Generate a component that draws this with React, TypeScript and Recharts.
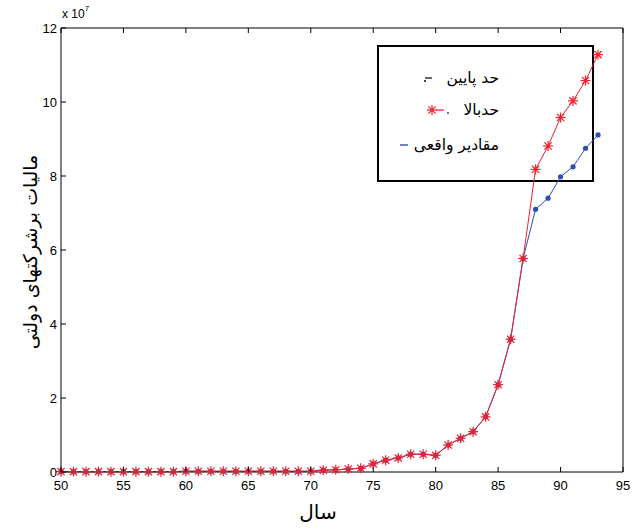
import React from 'react';
import { LineChart, Line, XAxis, YAxis } from 'recharts';

// years 1350..1393 (shown as 50..93), values in units of 10^7
const years = [
  50, 51, 52, 53, 54, 55, 56, 57, 58, 59, 60, 61, 62, 63, 64, 65, 66, 67, 68, 69,
  70, 71, 72, 73, 74, 75, 76, 77, 78, 79, 80, 81, 82, 83, 84, 85, 86, 87, 88, 89,
  90, 91, 92, 93,
];

const upperBound = [
  0.01, 0.01, 0.01, 0.01, 0.01, 0.01, 0.01, 0.01, 0.01, 0.01, 0.02, 0.02, 0.02, 0.02,
  0.02, 0.02, 0.02, 0.02, 0.02, 0.02, 0.02, 0.05, 0.06, 0.08, 0.1, 0.22, 0.32, 0.38,
  0.48, 0.48, 0.45, 0.73, 0.91, 1.09, 1.49, 2.36, 3.59, 5.77, 8.18, 8.81, 9.58, 10.03,
  10.58, 11.28,
];

const lowerBound = [
  0.01, 0.01, 0.01, 0.01, 0.01, 0.01, 0.01, 0.01, 0.01, 0.01, 0.02, 0.02, 0.02, 0.02,
  0.02, 0.02, 0.02, 0.02, 0.02, 0.02, 0.02, 0.05, 0.06, 0.08, 0.1, 0.22, 0.32, 0.38,
  0.48, 0.48, 0.45, 0.73, 0.91, 1.09, 1.49, 2.36, 3.59, 5.77, 7.1, 7.4, 7.98, 8.25,
  8.75, 9.11,
];

const xTicks = [50, 55, 60, 65, 70, 75, 80, 85, 90, 95];
const yTicks = [0, 2, 4, 6, 8, 10, 12];

const legendItems = ['حد پایین', 'حدبالا', 'مقادیر واقعی'];

const RED = '#f0202c';
const BLUE = '#2d4fb3';
const FONT = '"Liberation Sans", Arial, "DejaVu Sans", sans-serif';

const data = years.map((y, i) => ({ year: y, upper: upperBound[i], lower: lowerBound[i] }));

const Star = ({ cx, cy }: any) => {
  const r = 5;
  const d = r * 0.72;
  return (
    <g stroke={RED} strokeWidth={1.2}>
      <line x1={cx - r} y1={cy} x2={cx + r} y2={cy} />
      <line x1={cx} y1={cy - r} x2={cx} y2={cy + r} />
      <line x1={cx - d} y1={cy - d} x2={cx + d} y2={cy + d} />
      <line x1={cx - d} y1={cy + d} x2={cx + d} y2={cy - d} />
      <circle cx={cx} cy={cy} r={1.6} fill={RED} stroke="none" />
    </g>
  );
};

const BottomTick = ({ x, y, payload }: any) => (
  <g>
    <line x1={x} x2={x} y1={y} y2={y - 5} stroke="#000" />
    <text x={x} y={y + 18} textAnchor="middle" fontSize={13} fontFamily={FONT} fill="#000">
      {payload.value}
    </text>
  </g>
);

const TopTick = ({ x, y }: any) => <line x1={x} x2={x} y1={y} y2={y + 5} stroke="#000" />;

const LeftTick = ({ x, y, payload }: any) => (
  <g>
    <line x1={x} x2={x + 5} y1={y} y2={y} stroke="#000" />
    <text x={x - 4} y={y + 5} textAnchor="end" fontSize={13} fontFamily={FONT} fill="#000">
      {payload.value}
    </text>
  </g>
);

const RightTick = ({ x, y }: any) => <line x1={x} x2={x - 5} y1={y} y2={y} stroke="#000" />;

const App: React.FC = () => {
  return (
    <div style={{ position: 'absolute', left: 0, top: 0, width: 632, height: 529, background: '#fff', fontFamily: FONT }}>
      {/* legend box (behind the lines) */}
      <div
        style={{
          position: 'absolute',
          left: 377,
          top: 45,
          width: 213,
          height: 133,
          border: '2px solid #000',
        }}
      >
        {legendItems.map((label, i) => (
          <div
            key={label}
            style={{
              position: 'absolute',
              right: 93,
              top: [20, 52, 87][i],
              fontSize: 15.5,
              lineHeight: '22px',
              direction: 'rtl',
              whiteSpace: 'nowrap',
              fontFamily: '"DejaVu Sans", sans-serif',
            }}
          >
            {label}
          </div>
        ))}
        <svg style={{ position: 'absolute', left: 0, top: 0 }} width={213} height={133}>
          {/* lower bound sample */}
          <line x1={46} x2={53} y1={31} y2={31} stroke="#000" strokeWidth={1.2} />
          <circle cx={46} cy={34} r={1} fill="#000" />
          {/* upper bound sample */}
          <Star cx={53} cy={63} />
          <line x1={57} x2={65} y1={63} y2={63} stroke={RED} strokeWidth={1.2} />
          <circle cx={69} cy={66} r={1} fill={BLUE} />
          {/* actual sample */}
          <line x1={21} x2={29} y1={98} y2={98} stroke={BLUE} strokeWidth={1.4} />
        </svg>
      </div>

      <div style={{ position: 'absolute', left: 0, top: 0 }}>
        <LineChart width={632} height={529} data={data} margin={{ top: 0, right: 0, bottom: 0, left: 0 }}>
          <XAxis
            dataKey="year"
            type="number"
            domain={[50, 95]}
            ticks={xTicks}
            height={57}
            tickSize={0}
            tickMargin={0}
            tickLine={false}
            axisLine={{ stroke: '#000' }}
            tick={<BottomTick />}
            interval={0}
          />
          <XAxis
            xAxisId="top"
            orientation="top"
            dataKey="year"
            type="number"
            domain={[50, 95]}
            ticks={xTicks}
            height={28}
            tickSize={0}
            tickMargin={0}
            tickLine={false}
            axisLine={{ stroke: '#000' }}
            tick={<TopTick />}
            interval={0}
          />
          <YAxis
            type="number"
            domain={[0, 12]}
            ticks={yTicks}
            width={61}
            tickSize={0}
            tickMargin={0}
            tickLine={false}
            axisLine={{ stroke: '#000' }}
            tick={<LeftTick />}
            interval={0}
          />
          <YAxis
            yAxisId="right"
            orientation="right"
            type="number"
            domain={[0, 12]}
            ticks={yTicks}
            width={9}
            tickSize={0}
            tickMargin={0}
            tickLine={false}
            axisLine={{ stroke: '#000' }}
            tick={<RightTick />}
            interval={0}
          />
          <Line
            dataKey="lower"
            stroke={BLUE}
            strokeWidth={1}
            isAnimationActive={false}
            dot={(p: any) => <circle key={`l${p.index}`} cx={p.cx} cy={p.cy} r={2.6} fill={BLUE} stroke="none" />}
            activeDot={false}
          />
          <Line
            dataKey="upper"
            stroke={RED}
            strokeWidth={1}
            isAnimationActive={false}
            dot={(p: any) => <Star key={`u${p.index}`} cx={p.cx} cy={p.cy} />}
            activeDot={false}
          />
        </LineChart>
      </div>

      {/* exponent label */}
      <div style={{ position: 'absolute', left: 62, top: 7, fontSize: 12, color: '#000' }}>
        x 10<sup style={{ fontSize: 8, verticalAlign: 'top', position: 'relative', top: -3 }}>7</sup>
      </div>

      {/* y axis title */}
      <div
        style={{
          position: 'absolute',
          left: 30,
          top: 252,
          transform: 'translate(-50%, -50%) rotate(-90deg)',
          whiteSpace: 'nowrap',
          fontSize: 19,
          direction: 'rtl',
          fontFamily: '"DejaVu Sans", sans-serif',
        }}
      >
        مالیات برشرکتهای دولتی
      </div>

      {/* x axis title */}
      <div
        style={{
          position: 'absolute',
          left: 318,
          top: 512,
          transform: 'translate(-50%, -50%)',
          fontSize: 20,
          direction: 'rtl',
          fontFamily: '"DejaVu Sans", sans-serif',
        }}
      >
        سال
      </div>
    </div>
  );
};

export default App;
